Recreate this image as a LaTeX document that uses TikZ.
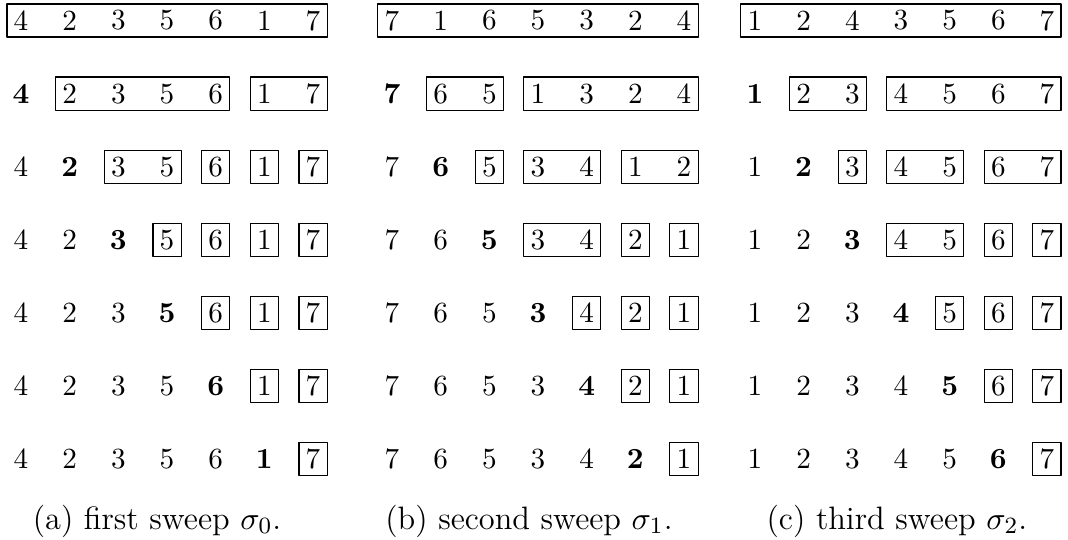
\documentclass[tikz,border=0pt]{standalone}
\begin{document}
\begin{tikzpicture}[line cap=round, line join=round,
  digit/.style={inner sep=0pt, minimum width=9.25pt, minimum height=10.95pt},
  part/.style={line width=.4pt},
  caption/.style={anchor=base, font=\fontsize{11.1pt}{13.6pt}\selectfont}]
  \useasboundingbox (0,0) rectangle (12.855,6.499);

  % (a) first sweep
  \foreach \r/\row in {1/{4,2,3,5,6,1,7}, 2/{4,2,3,5,6,1,7}, 3/{4,2,3,5,6,1,7},
                       4/{4,2,3,5,6,1,7}, 5/{4,2,3,5,6,1,7}, 6/{4,2,3,5,6,1,7},
                       7/{4,2,3,5,6,1,7}}
    \foreach \d [count=\c] in \row
      \node[digit] (a-\r-\c) at ({0.253+0.5858*(\c-1)},{6.252-0.8798*(\r-1)})
        {\ifnum\c=\numexpr\r-1\relax\textbf{\d}\else\d\fi};
  \foreach \r/\s/\e in {1/1/7, 2/2/5, 2/6/7, 3/3/4, 3/5/5, 3/6/6, 3/7/7,
                        4/4/4, 4/5/5, 4/6/6, 4/7/7, 5/5/5, 5/6/6, 5/7/7,
                        6/6/6, 6/7/7, 7/7/7}
    \draw[part] (a-\r-\s.south west) rectangle (a-\r-\e.north east);
  \node[caption] (capa) at (1.890,0.13) {(a) first sweep $\sigma_0$.};

  % (b) second sweep
  \foreach \r/\row in {1/{7,1,6,5,3,2,4}, 2/{7,6,5,1,3,2,4}, 3/{7,6,5,3,4,1,2},
                       4/{7,6,5,3,4,2,1}, 5/{7,6,5,3,4,2,1}, 6/{7,6,5,3,4,2,1},
                       7/{7,6,5,3,4,2,1}}
    \foreach \d [count=\c] in \row
      \node[digit] (b-\r-\c) at ({4.718+0.5858*(\c-1)},{6.252-0.8798*(\r-1)})
        {\ifnum\c=\numexpr\r-1\relax\textbf{\d}\else\d\fi};
  \foreach \r/\s/\e in {1/1/7, 2/2/3, 2/4/7, 3/3/3, 3/4/5, 3/6/7,
                        4/4/5, 4/6/6, 4/7/7, 5/5/5, 5/6/6, 5/7/7,
                        6/6/6, 6/7/7, 7/7/7}
    \draw[part] (b-\r-\s.south west) rectangle (b-\r-\e.north east);
  \node[caption] (capb) at (6.367,0.13) {(b) second sweep $\sigma_1$.};

  % (c) third sweep
  \foreach \r/\row in {1/{1,2,4,3,5,6,7}, 2/{1,2,3,4,5,6,7}, 3/{1,2,3,4,5,6,7},
                       4/{1,2,3,4,5,6,7}, 5/{1,2,3,4,5,6,7}, 6/{1,2,3,4,5,6,7},
                       7/{1,2,3,4,5,6,7}}
    \foreach \d [count=\c] in \row
      \node[digit] (c-\r-\c) at ({9.087+0.5858*(\c-1)},{6.252-0.8798*(\r-1)})
        {\ifnum\c=\numexpr\r-1\relax\textbf{\d}\else\d\fi};
  \foreach \r/\s/\e in {1/1/7, 2/2/3, 2/4/7, 3/3/3, 3/4/5, 3/6/7,
                        4/4/5, 4/6/6, 4/7/7, 5/5/5, 5/6/6, 5/7/7,
                        6/6/6, 6/7/7, 7/7/7}
    \draw[part] (c-\r-\s.south west) rectangle (c-\r-\e.north east);
  \node[caption] (capc) at (10.796,0.13) {(c) third sweep $\sigma_2$.};
\end{tikzpicture}
\end{document}
